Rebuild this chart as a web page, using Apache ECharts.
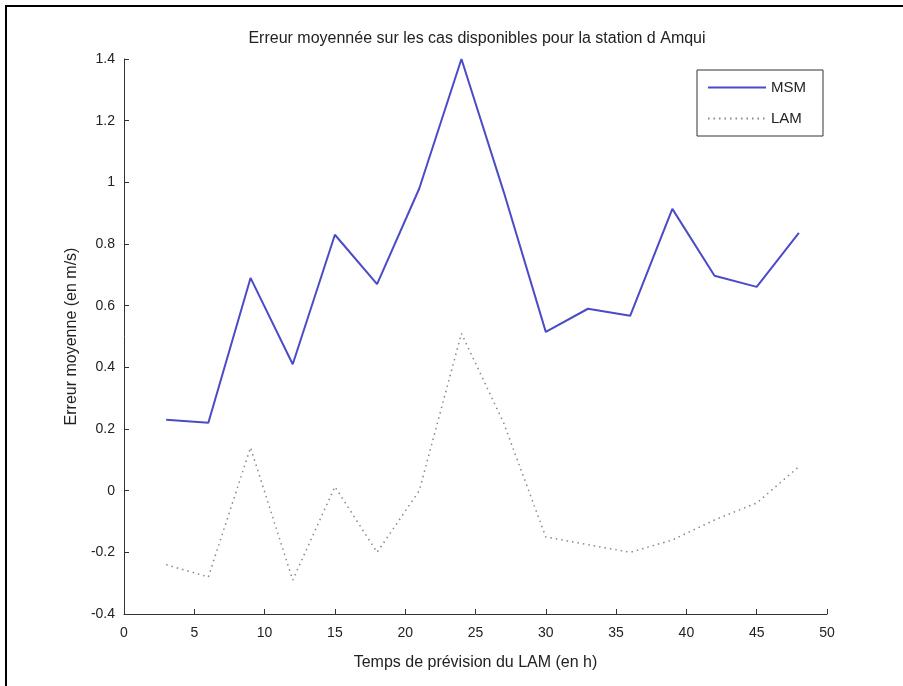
<!DOCTYPE html>
<html>
<head>
<meta charset="utf-8">
<script src="https://cdn.jsdelivr.net/npm/echarts@6/dist/echarts.min.js"></script>
<style>
html,body{margin:0;padding:0;background:#fff;}
#chart{width:903px;height:686px;}
</style>
</head>
<body>
<div id="chart"></div>
<script>
const hours = [3, 6, 9, 12, 15, 18, 21, 24, 27, 30, 33, 36, 39, 42, 45, 48];
const msm = [0.23, 0.22, 0.69, 0.41, 0.83, 0.67, 0.98, 1.40, 0.97, 0.515, 0.59, 0.567, 0.914, 0.697, 0.661, 0.836];
const lam = [-0.24, -0.28, 0.14, -0.29, 0.013, -0.20, 0.0, 0.51, 0.22, -0.15, -0.175, -0.20, -0.16, -0.095, -0.04, 0.078];
const seriesNames = ['MSM', 'LAM'];
const titleText = 'Erreur moyennée sur les cas disponibles pour la station d Amqui';
const xName = 'Temps de prévision du LAM (en h)';
const yName = 'Erreur moyenne (en m/s)';

const font = 'Liberation Sans, Arial, sans-serif';
const chart = echarts.init(document.getElementById('chart'), null, {renderer: 'canvas'});
chart.setOption({
  backgroundColor: '#fff',
  animation: false,
  title: {
    text: titleText,
    left: 477, top: 31, textAlign: 'center', padding: 0,
    textStyle: {fontFamily: font, fontSize: 16, fontWeight: 'normal', color: '#222'}
  },
  legend: {
    orient: 'vertical',
    left: 697, top: 70,
    padding: [10, 17, 10, 10],
    itemGap: 16,
    itemWidth: 58, itemHeight: 16,
    borderColor: '#333', borderWidth: 1,
    backgroundColor: '#fff',
    itemStyle: {opacity: 0},
    textStyle: {fontFamily: font, fontSize: 15, color: '#222'},
    data: seriesNames
  },
  grid: {left: 124, right: 76, top: 59, bottom: 72, containLabel: false},
  xAxis: {
    type: 'value', min: 0, max: 50, interval: 5,
    name: xName, nameLocation: 'middle', nameGap: 41,
    nameTextStyle: {fontFamily: font, fontSize: 16, color: '#222'},
    axisLine: {onZero: false, lineStyle: {color: '#333', width: 1}},
    axisTick: {inside: true, length: 5, lineStyle: {color: '#333'}},
    axisLabel: {fontFamily: font, fontSize: 14, color: '#222', margin: 12},
    splitLine: {show: false}
  },
  yAxis: {
    type: 'value', min: -0.4, max: 1.4, interval: 0.2,
    name: yName, nameLocation: 'middle', nameGap: 42, nameRotate: 90,
    nameTextStyle: {fontFamily: font, fontSize: 16, color: '#222'},
    axisLine: {show: true, onZero: false, lineStyle: {color: '#333', width: 1}},
    axisTick: {show: true, inside: true, length: 5, lineStyle: {color: '#333'}},
    axisLabel: {fontFamily: font, fontSize: 14, color: '#222', margin: 9,
      formatter: v => String(Math.round(v * 10) / 10)},
    splitLine: {show: false}
  },
  series: [
    {
      name: seriesNames[0], type: 'line', symbol: 'none',
      data: hours.map((h, i) => [h, msm[i]]),
      lineStyle: {color: '#4b4bc8', width: 2},
      itemStyle: {color: '#4b4bc8'}
    },
    {
      name: seriesNames[1], type: 'line', symbol: 'none',
      data: hours.map((h, i) => [h, lam[i]]),
      lineStyle: {color: '#888', width: 1.5, type: [1.5, 4]},
      itemStyle: {color: '#888'}
    }
  ],
  graphic: [
    {type: 'line', shape: {x1: 5, y1: 6, x2: 903, y2: 6}, style: {stroke: '#000', lineWidth: 2}},
    {type: 'line', shape: {x1: 6, y1: 5, x2: 6, y2: 686}, style: {stroke: '#000', lineWidth: 2}}
  ]
});
</script>
</body>
</html>
